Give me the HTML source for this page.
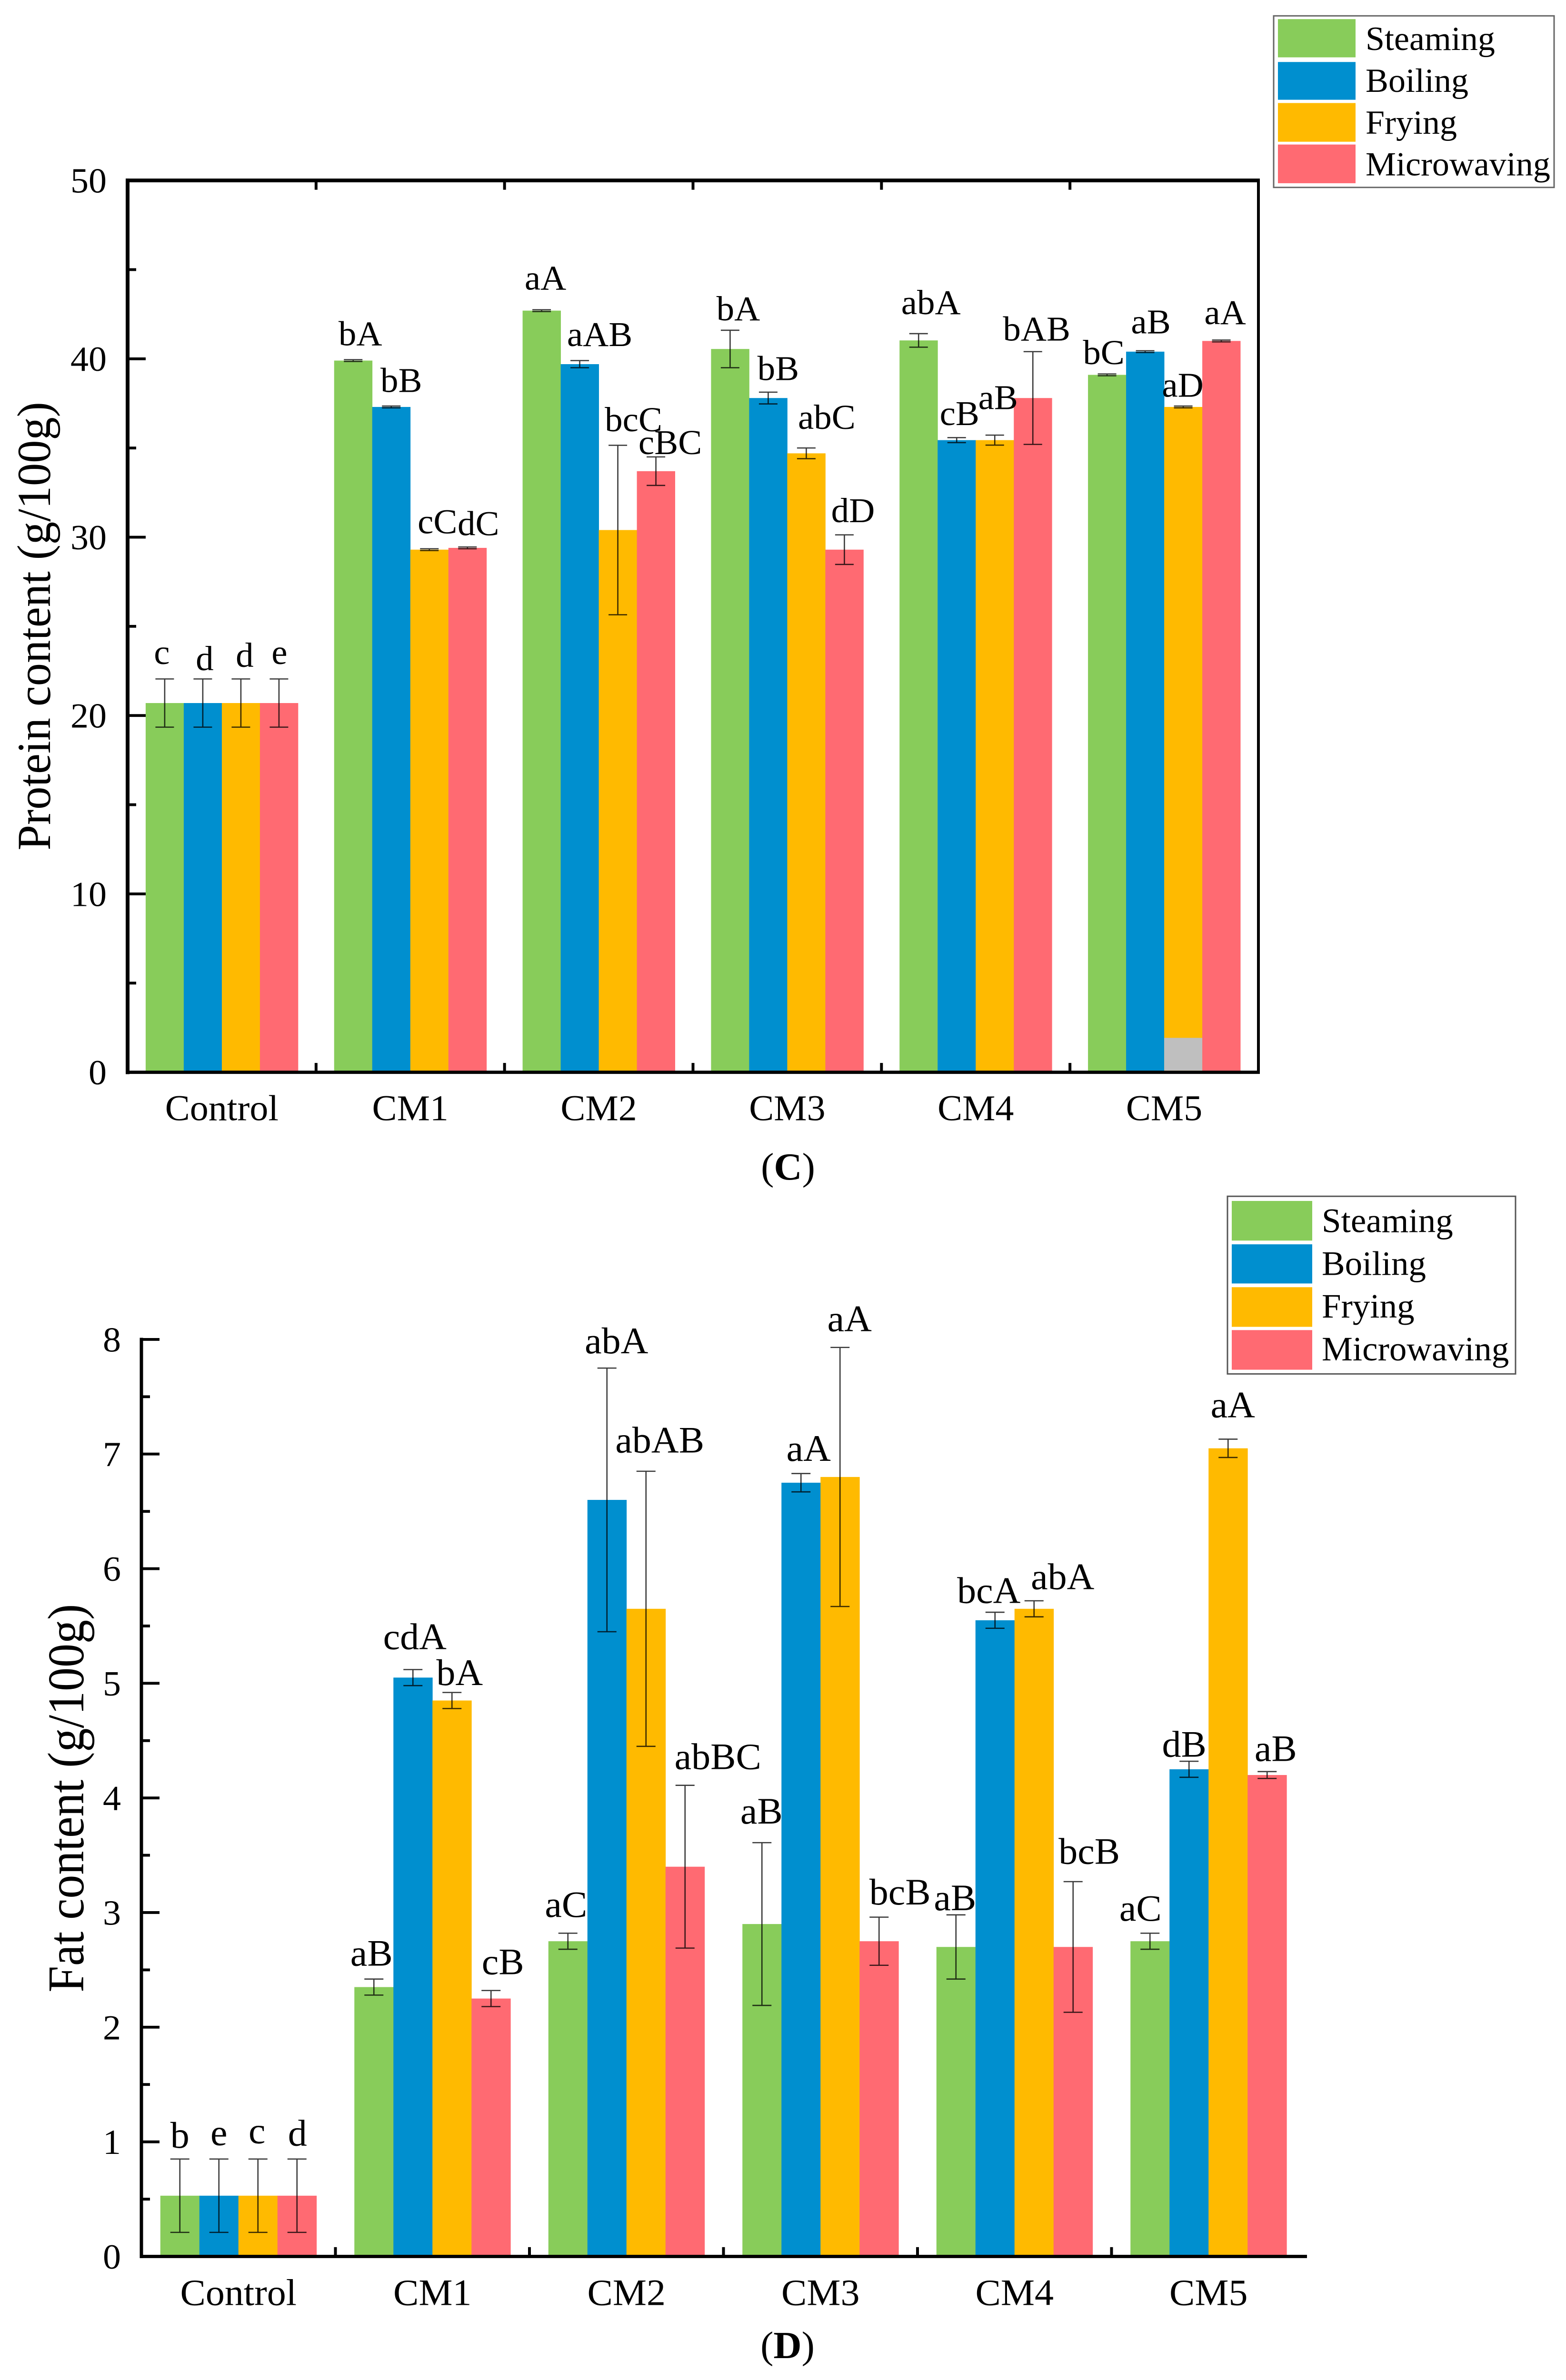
<!DOCTYPE html>
<html lang="en">
<head>
<meta charset="utf-8">
<title>Protein and fat content by cooking method</title>
<style>
html,body{margin:0;padding:0;background:#fff;width:100%;height:100%;overflow:hidden;}
svg{display:block;position:fixed;left:0;top:0;width:100vw;height:100vh;overflow:hidden;}
text{font-family:"Liberation Serif","Times New Roman",serif;fill:#000;}
</style>
</head>
<body>
<svg id="figure" xmlns="http://www.w3.org/2000/svg" viewBox="0 0 3289 5105" preserveAspectRatio="none">
  <rect x="0" y="0" width="3289" height="5105" fill="#ffffff"/>
  <g id="chart-c"></g>
  <g id="chart-d"></g>

  <text transform="translate(105,1343) rotate(-90)" text-anchor="middle" font-size="100" textLength="962" lengthAdjust="spacingAndGlyphs">Protein content (g/100g)</text>
  <text transform="translate(175,3857) rotate(-90)" text-anchor="middle" font-size="108" textLength="833" lengthAdjust="spacingAndGlyphs">Fat content (g/100g)</text>

  <text x="1655" y="2530" text-anchor="middle" font-size="82">(<tspan font-weight="bold">C</tspan>)</text>
  <text x="1654" y="5058" text-anchor="middle" font-size="82">(<tspan font-weight="bold">D</tspan>)</text>

  <g>
    <rect x="2675" y="34" width="589" height="368" fill="#fff" stroke="#666" stroke-width="3"/>
    <rect x="2684" y="41" width="163" height="82" fill="#88CC5A"/>
    <rect x="2684" y="133" width="163" height="81" fill="#008FCF"/>
    <rect x="2684" y="221" width="163" height="83" fill="#FFBA00"/>
    <rect x="2684" y="310" width="163" height="83" fill="#FF6A72"/>
    <text x="2868" y="107" font-size="72">Steaming</text>
    <text x="2868" y="197" font-size="72">Boiling</text>
    <text x="2868" y="287" font-size="72">Frying</text>
    <text x="2868" y="376" font-size="72">Microwaving</text>
  </g>

  <g>
    <rect x="2578" y="2566" width="605" height="381" fill="#fff" stroke="#555" stroke-width="3"/>
    <rect x="2587" y="2576" width="169" height="85" fill="#88CC5A"/>
    <rect x="2587" y="2669" width="169" height="84" fill="#008FCF"/>
    <rect x="2587" y="2761" width="169" height="85" fill="#FFBA00"/>
    <rect x="2587" y="2853" width="169" height="85" fill="#FF6A72"/>
    <text x="2776" y="2643" font-size="73">Steaming</text>
    <text x="2776" y="2735" font-size="73">Boiling</text>
    <text x="2776" y="2826" font-size="73">Frying</text>
    <text x="2776" y="2918" font-size="73">Microwaving</text>
  </g>
</svg>

<script>
// ---------- Data ----------
const categories = ['Control', 'CM1', 'CM2', 'CM3', 'CM4', 'CM5'];
const methods = ['Steaming', 'Boiling', 'Frying', 'Microwaving'];

const proteinSteaming = [20.7, 39.9, 42.7, 40.55, 41.03, 39.1];
const proteinBoiling = [20.7, 37.3, 39.7, 37.8, 35.44, 40.4];
const proteinFrying = [20.7, 29.3, 30.4, 34.7, 35.44, 37.3];
const proteinMicrowaving = [20.7, 29.4, 33.7, 29.3, 37.8, 41.0];

const proteinSteamingErr = [1.35, 0.05, 0.05, 1.05, 0.38, 0.05];
const proteinBoilingErr = [1.35, 0.05, 0.2, 0.33, 0.14, 0.05];
const proteinFryingErr = [1.35, 0.05, 4.75, 0.3, 0.28, 0.05];
const proteinMicrowavingErr = [1.35, 0.05, 0.8, 0.83, 2.6, 0.05];

const proteinSteamingLetters = ['c', 'bA', 'aA', 'bA', 'abA', 'bC'];
const proteinBoilingLetters = ['d', 'bB', 'aAB', 'bB', 'cB', 'aB'];
const proteinFryingLetters = ['d', 'cC', 'bcC', 'abC', 'aB', 'aD'];
const proteinMicrowavingLetters = ['e', 'dC', 'cBC', 'dD', 'bAB', 'aA'];

const proteinMajorTicks = [0, 10, 20, 30, 40, 50];
const proteinMinorTicks = [5, 15, 25, 35, 45];
const proteinGreyPatchValue = 1.93;

const fatSteaming = [0.53, 2.35, 2.75, 2.9, 2.7, 2.75];
const fatBoiling = [0.53, 5.05, 6.6, 6.75, 5.55, 4.25];
const fatFrying = [0.53, 4.85, 5.65, 6.8, 5.65, 7.05];
const fatMicrowaving = [0.53, 2.25, 3.4, 2.75, 2.7, 4.2];

const fatSteamingErr = [0.32, 0.07, 0.07, 0.71, 0.28, 0.07];
const fatBoilingErr = [0.32, 0.07, 1.15, 0.08, 0.07, 0.07];
const fatFryingErr = [0.32, 0.07, 1.2, 1.13, 0.07, 0.08];
const fatMicrowavingErr = [0.32, 0.07, 0.71, 0.21, 0.57, 0.03];

const fatSteamingLetters = ['b', 'aB', 'aC', 'aB', 'aB', 'aC'];
const fatBoilingLetters = ['e', 'cdA', 'abA', 'aA', 'bcA', 'dB'];
const fatFryingLetters = ['c', 'bA', 'abAB', 'aA', 'abA', 'aA'];
const fatMicrowavingLetters = ['d', 'cB', 'abBC', 'bcB', 'bcB', 'aB'];

const fatMajorTicks = [0, 1, 2, 3, 4, 5, 6, 7, 8];
const fatMinorTicks = [0.5, 1.5, 2.5, 3.5, 4.5, 5.5, 6.5, 7.5];

// ---------- Layout (not data): chart geometry and hand-placed letter offsets ----------
const COLORS = ['#88CC5A', '#008FCF', '#FFBA00', '#FF6A72'];
const SVGNS = 'http://www.w3.org/2000/svg';

const proteinLayout = {
  left: 268, right: 2643, top: 387, bottom: 2300, yMax: 50, barW: 80, capW: 39,
  axisW: 8, tickLabelSize: 76, xLabelSize: 78, xLabelY: 2403, yLabelX: 224, letterSize: 75, framed: true,
  nudges: [
    [[-6,-32],[15,-31],[8,-43],[17,-21],[26,-42],[-7,-21]],
    [[4,-19],[21,-30],[42,-31],[21,-26],[6,-27],[12,-37]],
    [[8,-26],[17,-33],[33,-30],[43,-41],[7,-56],[-1,-20]],
    [[1,-32],[23,-25],[30,-6],[18,-27],[8,-24],[8,-34]]
  ]
};
const fatLayout = {
  left: 297, right: 2742, top: 2873, bottom: 4840, yMax: 8, barW: 82, capW: 40,
  axisW: 7, tickLabelSize: 76, xLabelSize: 80, xLabelY: 4944, yLabelX: 254, letterSize: 80, framed: false,
  nudges: [
    [[0,-24],[-5,-29],[-4,-35],[-1,-41],[-2,-10],[-20,-27]],
    [[0,-30],[4,-44],[20,-32],[16,-27],[-13,-20],[-10,-10]],
    [[-2,-34],[16,-16],[29,-40],[20,-35],[60,-25],[10,-47]],
    [[1,-29],[25,-35],[69,-35],[44,-27],[34,-38],[18,-23]]
  ]
};

function make(tag, attrs, parent) {
  const el = document.createElementNS(SVGNS, tag);
  for (const k in attrs) el.setAttribute(k, attrs[k]);
  parent.appendChild(el);
  return el;
}

function drawChart(root, prefix, layout, values, errors, letters, majorTicks, minorTicks) {
  const L = layout;
  const yScale = v => L.bottom - (v / L.yMax) * (L.bottom - L.top);
  const band = (L.right - L.left) / categories.length;
  const catCenter = i => L.left + band * (i + 0.5);
  const barCenter = (i, s) => catCenter(i) + (s - 1.5) * L.barW;

  // bars
  methods.forEach((m, s) => {
    categories.forEach((c, i) => {
      const top = yScale(values[s][i]);
      const bar = make('rect', {
        x: barCenter(i, s) - L.barW / 2, y: top, width: L.barW + 0.4,
        height: L.bottom - top, fill: COLORS[s]
      }, root);
      
      
    });
  });

  // error bars
  methods.forEach((m, s) => {
    categories.forEach((c, i) => {
      const x = barCenter(i, s);
      const hi = yScale(values[s][i] + errors[s][i]);
      const lo = yScale(values[s][i] - errors[s][i]);
      const d = 'M' + x + ' ' + hi + 'V' + lo +
        'M' + (x - L.capW / 2) + ' ' + hi + 'H' + (x + L.capW / 2) +
        'M' + (x - L.capW / 2) + ' ' + lo + 'H' + (x + L.capW / 2);
      const err = make('path', { d: d, fill: 'none', stroke: '#000', 'stroke-width': 2.6, 'stroke-opacity': 0.78 }, root);
      
      
    });
  });

  // significance letters
  methods.forEach((m, s) => {
    categories.forEach((c, i) => {
      const n = L.nudges[s][i];
      const t = make('text', {
        x: barCenter(i, s) + n[0], y: yScale(values[s][i] + errors[s][i]) + n[1],
        'text-anchor': 'middle', 'font-size': L.letterSize
      }, root);
      t.textContent = letters[s][i];
      
      
    });
  });

  // axes
  const black = { stroke: '#000', fill: 'none' };
  const yAxis = make('line', Object.assign({ x1: L.left, x2: L.left, y1: L.top - L.axisW / 2, y2: L.bottom + L.axisW / 2, 'stroke-width': L.axisW }, black), root);
  
  
  const xAxis = make('line', Object.assign({ x1: L.left - L.axisW / 2, x2: L.right + 3, y1: L.bottom, y2: L.bottom, 'stroke-width': 7 }, black), root);
  
  

  if (L.framed) {
    const topEdge = make('line', Object.assign({ x1: L.left - 4, x2: L.right + 3, y1: L.top, y2: L.top, 'stroke-width': 8 }, black), root);
    
    
    const rightEdge = make('line', Object.assign({ x1: L.right, x2: L.right, y1: L.top, y2: L.bottom, 'stroke-width': 6 }, black), root);
    
    
  }

  // y ticks
  majorTicks.forEach(v => {
    const y = yScale(v);
    if (v > 0 && v < L.yMax || !L.framed) {
      const tick = make('line', Object.assign({ x1: L.left, x2: L.left + 38, y1: y, y2: y, 'stroke-width': 6 }, black), root);
      
      
    }
    const lab = make('text', { x: L.yLabelX, y: y + 26, 'text-anchor': 'end', 'font-size': L.tickLabelSize }, root);
    lab.textContent = String(v);
    
    
  });
  minorTicks.forEach(v => {
    const y = yScale(v);
    const tick = make('line', Object.assign({ x1: L.left, x2: L.left + 18, y1: y, y2: y, 'stroke-width': 6 }, black), root);
    
    
  });

  // x ticks and labels
  categories.forEach((c, i) => {
    if (i > 0) {
      const x = L.left + band * i;
      const tick = make('line', Object.assign({ x1: x, x2: x, y1: L.bottom, y2: L.bottom - 20, 'stroke-width': 6 }, black), root);
      
      
      if (L.framed) {
        const topTick = make('line', Object.assign({ x1: x, x2: x, y1: L.top, y2: L.top + 20, 'stroke-width': 6 }, black), root);
        
        
      }
    }
    const lab = make('text', { x: catCenter(i), y: L.xLabelY, 'text-anchor': 'middle', 'font-size': L.xLabelSize }, root);
    lab.textContent = c;
    
    
  });

  return { yScale: yScale, barCenter: barCenter };
}

const proteinScales = drawChart(
  document.getElementById('chart-c'), 'protein', proteinLayout,
  [proteinSteaming, proteinBoiling, proteinFrying, proteinMicrowaving],
  [proteinSteamingErr, proteinBoilingErr, proteinFryingErr, proteinMicrowavingErr],
  [proteinSteamingLetters, proteinBoilingLetters, proteinFryingLetters, proteinMicrowavingLetters],
  proteinMajorTicks, proteinMinorTicks
);

// grey patch at the foot of the CM5 frying bar
const greyTop = proteinScales.yScale(proteinGreyPatchValue);
const greyPatch = make('rect', {
  x: proteinScales.barCenter(5, 2) - proteinLayout.barW / 2, y: greyTop,
  width: proteinLayout.barW, height: proteinLayout.bottom - 3.5 - greyTop, fill: '#BFBFBF'
}, document.getElementById('chart-c'));



drawChart(
  document.getElementById('chart-d'), 'fat', fatLayout,
  [fatSteaming, fatBoiling, fatFrying, fatMicrowaving],
  [fatSteamingErr, fatBoilingErr, fatFryingErr, fatMicrowavingErr],
  [fatSteamingLetters, fatBoilingLetters, fatFryingLetters, fatMicrowavingLetters],
  fatMajorTicks, fatMinorTicks
);
</script>
</body>
</html>
